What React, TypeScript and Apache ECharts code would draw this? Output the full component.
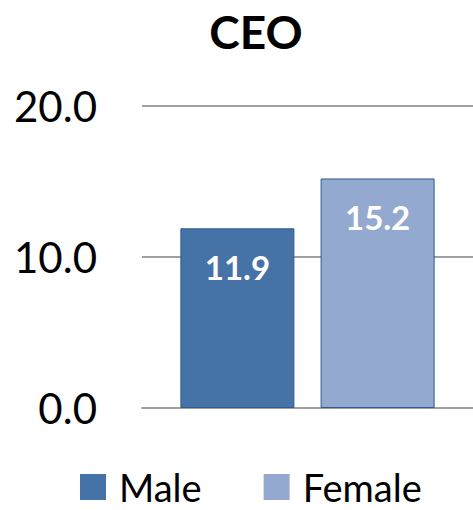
import React, { useEffect, useRef } from "react";
import * as echarts from "echarts";

const categories = ["CEO"];
const maleValues = [11.9];
const femaleValues = [15.2];
const seriesNames = ["Male", "Female"];

export default function App() {
  const ref = useRef<HTMLDivElement>(null);
  useEffect(() => {
    if (!ref.current) return;
    const chart = echarts.init(ref.current, undefined, { renderer: "svg" });
    const font = "Lato, 'Open Sans', sans-serif";
    const labelStyle = {
      show: true,
      position: "insideTop" as const,
      distance: 22,
      color: "#ffffff",
      fontWeight: "bold" as const,
      fontSize: 33,
      fontFamily: font,
      formatter: (p: any) => Number(p.value).toFixed(1),
    };
    chart.setOption({
      animation: false,
      title: {
        text: "CEO",
        left: 251,
        top: 3,
        textAlign: "center",
        textStyle: { fontSize: 46, fontWeight: "bold", color: "#000", fontFamily: font },
      },
      legend: {
        top: 468,
        left: 80,
        itemWidth: 26,
        itemHeight: 26,
        itemGap: 62,
        icon: "rect",
        padding: 0,
        itemStyle: { borderWidth: 0 },
        textStyle: {
          fontSize: 38,
          lineHeight: 38,
          color: "#000",
          fontFamily: font,
          padding: [0, 0, 0, 8],
        },
        data: seriesNames,
      },
      grid: { left: 142, right: 0, top: 106, bottom: 102 },
      xAxis: {
        type: "category",
        data: categories,
        axisLine: { lineStyle: { color: "#a0a0a0", width: 2 } },
        axisTick: { show: false },
        axisLabel: { show: false },
      },
      yAxis: {
        type: "value",
        min: 0,
        max: 20,
        interval: 10,
        axisLabel: {
          formatter: (v: number) => v.toFixed(1),
          fontSize: 42,
          color: "#000",
          fontFamily: font,
          margin: 45,
        },
        splitLine: { lineStyle: { color: "#a0a0a0", width: 2 } },
        axisLine: { show: false },
        axisTick: { show: false },
      },
      series: [
        {
          name: seriesNames[0],
          type: "bar",
          data: maleValues,
          barWidth: 114,
          barGap: "23%",
          itemStyle: { color: "#4572A7", borderColor: "#2E5A8C", borderWidth: 1 },
          label: labelStyle,
        },
        {
          name: seriesNames[1],
          type: "bar",
          data: femaleValues,
          barWidth: 114,
          itemStyle: { color: "#93A9CF", borderColor: "#2E5A8C", borderWidth: 1 },
          label: labelStyle,
        },
      ],
    });
    return () => chart.dispose();
  }, []);
  return (
    <div
      ref={ref}
      style={{ position: "absolute", left: 0, top: 0, width: 473, height: 510 }}
    />
  );
}
